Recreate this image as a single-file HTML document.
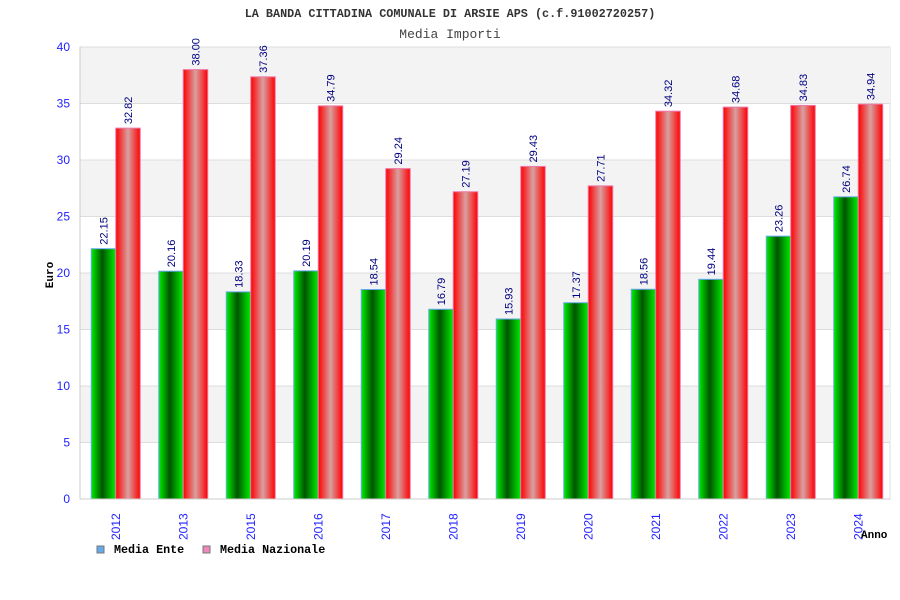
<!DOCTYPE html>
<html><head><meta charset="utf-8"><style>
body{margin:0;background:#fff;}
svg{display:block;}
</style></head><body>
<svg width="900" height="600" xmlns="http://www.w3.org/2000/svg">
<defs>
<linearGradient id="gg" x1="0" x2="1" y1="0" y2="0">
<stop offset="0" stop-color="#00ee00"/><stop offset="0.45" stop-color="#005500"/><stop offset="1" stop-color="#00ee00"/>
</linearGradient>
<linearGradient id="rg" x1="0" x2="1" y1="0" y2="0">
<stop offset="0" stop-color="#ff0000"/><stop offset="0.5" stop-color="#d8a0a0"/><stop offset="1" stop-color="#ff0000"/>
</linearGradient>
</defs>
<text x="450" y="17" text-anchor="middle" font-family="Liberation Mono, monospace" font-size="11.8" font-weight="bold" fill="#333">LA BANDA CITTADINA COMUNALE DI ARSIE APS (c.f.91002720257)</text>
<text x="450" y="38" text-anchor="middle" font-family="Liberation Mono, monospace" font-size="13" fill="#444">Media Importi</text>
<g id="grid"></g>
<g id="bars"></g>
<g id="axes"></g>
<text x="53" y="275" transform="rotate(-90 53 275)" text-anchor="middle" font-family="Liberation Mono, monospace" font-size="11" font-weight="bold" fill="#000">Euro</text>
<text x="861" y="538" font-family="Liberation Mono, monospace" font-size="11" font-weight="bold" fill="#000">Anno</text>
<g>
<rect x="97" y="546" width="7" height="7" fill="#66aaee" stroke="#777"/>
<text x="114" y="553" font-family="Liberation Mono, monospace" font-size="11.7" font-weight="bold">Media Ente</text>
<rect x="203" y="546" width="7" height="7" fill="#ee88bb" stroke="#777"/>
<text x="220" y="553" font-family="Liberation Mono, monospace" font-size="11.7" font-weight="bold">Media Nazionale</text>
</g>
</svg>
<script>
const categories=["2012","2013","2015","2016","2017","2018","2019","2020","2021","2022","2023","2024"];
const enteValues=[22.15,20.16,18.33,20.19,18.54,16.79,15.93,17.37,18.56,19.44,23.26,26.74];
const nazValues=[32.82,38.00,37.36,34.79,29.24,27.19,29.43,27.71,34.32,34.68,34.83,34.94];
const yTicks=[0,5,10,15,20,25,30,35,40];
const NS="http://www.w3.org/2000/svg";
const L=80,R=890,T=47,B=499,yMax=40;
function y(v){return B-(v/yMax)*(B-T);}
function gx(i){return L+(R-L)/categories.length*i;}
const gw=(R-L)/categories.length;
function mk(tag,attrs,parent){const e=document.createElementNS(NS,tag);for(const k in attrs)e.setAttribute(k,attrs[k]);parent.appendChild(e);return e;}
const grid=document.getElementById('grid'),bars=document.getElementById('bars'),axes=document.getElementById('axes');
mk('rect',{x:L,y:T,width:R-L,height:B-T,fill:'#fff',stroke:'#ddd'},grid);
for(let i=0;i<yTicks.length-1;i++){
 if(i%2===1){const r=mk('rect',{x:L,y:y(yTicks[i+1]),width:R-L,height:y(yTicks[i])-y(yTicks[i+1]),fill:'#f3f3f3'},grid);
 
 }
}
yTicks.forEach(t=>{
 const l=mk('line',{x1:L,x2:R,y1:y(t),y2:y(t),stroke:'#ddd'},grid);
 
 
 const tx=mk('text',{x:70,y:y(t)+4,'text-anchor':'end','font-family':'Liberation Sans, sans-serif','font-size':'12',fill:'#2222ff'},axes);
 tx.textContent=t;
 
 
});
mk('line',{x1:L,x2:L,y1:T,y2:B,stroke:'#ccc'},axes);
mk('line',{x1:L,x2:R,y1:B,y2:B,stroke:'#ccc'},axes);
const bw=24.5;
categories.forEach((c,i)=>{
 const cx=gx(i)+gw/2+2;
 const ge=mk('rect',{x:cx-bw,y:y(enteValues[i]),width:bw,height:B-y(enteValues[i]),fill:'url(#gg)',stroke:'#66aaee','stroke-width':'1'},bars);
 
 
 const rn=mk('rect',{x:cx,y:y(nazValues[i]),width:bw,height:B-y(nazValues[i]),fill:'url(#rg)',stroke:'#ee77aa','stroke-width':'1'},bars);
 
 
 [[enteValues[i],cx-bw/2,'value-label-ente'],[nazValues[i],cx+bw/2,'value-label-nazionale']].forEach(([v,xx,n])=>{
  const ty=y(v)-4,tx=xx+4;
  const t=mk('text',{x:tx,y:ty,transform:`rotate(-90 ${tx} ${ty})`,'font-family':'Liberation Sans, sans-serif','font-size':'11',fill:'#000080'},bars);
  t.textContent=v.toFixed(2);
  
  
 });
 const lx=cx+4,ly=540;
 const xl=mk('text',{x:lx,y:ly,transform:`rotate(-90 ${lx} ${ly})`,'font-family':'Liberation Sans, sans-serif','font-size':'12',fill:'#2222ff'},axes);
 xl.textContent=c;
 
 
});
</script>
</body></html>
